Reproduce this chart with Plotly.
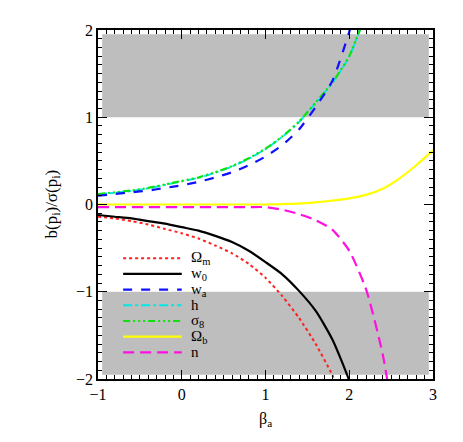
import plotly.graph_objects as go

# ---------------- data ----------------
beta_a = [-1.0, -0.8, -0.6, -0.4, -0.2, 0.0, 0.2, 0.4, 0.6, 0.8, 1.0,
          1.2, 1.4, 1.6, 1.8, 2.0, 2.2, 2.4, 2.6, 2.8, 3.0]

omega_m = [-0.14, -0.16, -0.19, -0.23, -0.28, -0.33, -0.39, -0.47, -0.56, -0.68, -0.84,
           -1.05, -1.30, -1.60, -1.96, -2.45, None, None, None, None, None]
w0 = [-0.12, -0.14, -0.16, -0.19, -0.22, -0.26, -0.30, -0.36, -0.43, -0.53, -0.66,
      -0.80, -0.99, -1.22, -1.55, -2.02, -2.70, None, None, None, None]
wa = [0.10, 0.12, 0.14, 0.16, 0.19, 0.22, 0.26, 0.31, 0.37, 0.45, 0.55,
      0.68, 0.86, 1.12, 1.42, 1.98, 2.70, None, None, None, None]
h = [0.115, 0.135, 0.155, 0.185, 0.225, 0.265, 0.305, 0.365, 0.435, 0.525, 0.635,
     0.775, 0.945, 1.165, 1.395, 1.695, 2.19, None, None, None, None]
sigma8 = [0.12, 0.14, 0.16, 0.19, 0.23, 0.27, 0.31, 0.37, 0.44, 0.53, 0.64,
          0.78, 0.95, 1.17, 1.40, 1.70, 2.20, None, None, None, None]
omega_b = [0.0, 0.0, 0.0, 0.0, 0.0, 0.0, 0.0, 0.0, 0.0, 0.0, 0.0,
           0.005, 0.01, 0.025, 0.045, 0.07, 0.11, 0.18, 0.30, 0.45, 0.62]
n_s = [-0.03, -0.03, -0.03, -0.03, -0.03, -0.03, -0.03, -0.03, -0.03, -0.03, -0.03,
       -0.06, -0.11, -0.18, -0.29, -0.53, -0.97, -1.72, -2.90, None, None]

x_ticks = [-1, 0, 1, 2, 3]
y_ticks = [-2, -1, 0, 1, 2]

labels = ["Ω<sub>m</sub>", "w<sub>0</sub>", "w<sub>a</sub>", "h",
          "σ<sub>8</sub>", "Ω<sub>b</sub>", "n"]

# excluded bands (|b/σ| > 1)
band_lo = [-1.95, 1.0]
band_hi = [-1.0, 1.95]

# ---------------- styles ----------------
FONT = "Liberation Serif"
styles = [
    dict(color="#ff2020", dash="dot", width=2),
    dict(color="black", dash="solid", width=2.2),
    dict(color="#1010ff", dash="dash", width=2.2),
    dict(color="#00e8e8", dash="dashdot", width=2),
    dict(color="#10e010", dash="7px,3px,2px,3px,2px,3px,2px,3px", width=2.2),
    dict(color="#ffff00", dash="solid", width=2.2),
    dict(color="#ff10e0", dash="11px,6px", width=2.2),
]
series = [omega_m, w0, wa, h, sigma8, omega_b, n_s]
draw_order = [3, 4, 2, 5, 6, 0, 1]

fig = go.Figure()
for i in draw_order:
    fig.add_trace(go.Scatter(x=beta_a, y=series[i], mode="lines",
                             line=dict(shape="spline", smoothing=0.6, **styles[i]),
                             showlegend=False, connectgaps=False, hoverinfo="skip"))

shapes = []
for lo, hi in zip(band_lo, band_hi):
    shapes.append(dict(type="rect", xref="x", yref="y", x0=-0.95, x1=2.95,
                       y0=lo, y1=hi, fillcolor="#bebebe",
                       line=dict(width=0), layer="below"))

# legend drawn as line samples + labels
annotations = []
leg_y0 = -0.615
leg_dy = -0.18
for k, lab in enumerate(labels):
    yy = leg_y0 + k * leg_dy
    st = styles[k]
    shapes.append(dict(type="line", xref="x", yref="y", x0=-0.70, x1=0.0,
                       y0=yy, y1=yy,
                       line=dict(color=st["color"], dash=st["dash"], width=st["width"])))
    annotations.append(dict(x=0.09, y=yy, xref="x", yref="y", text=lab,
                            showarrow=False, xanchor="left", yanchor="middle",
                            font=dict(family=FONT, size=15, color="black")))

# axis titles
annotations.append(dict(x=0.5, y=0, xref="paper", yref="paper",
                        text="β<sub>a</sub>", showarrow=False,
                        xanchor="center", yanchor="middle", yshift=-40,
                        font=dict(family=FONT, size=16, color="black")))
annotations.append(dict(x=0, y=0.5, xref="paper", yref="paper",
                        text="b(p<sub>i</sub>)/σ(p<sub>i</sub>)", showarrow=False,
                        textangle=-90, xanchor="center", yanchor="middle", xshift=-46,
                        font=dict(family=FONT, size=17, color="black")))

axis_common = dict(showgrid=False, zeroline=False, showline=True, linecolor="black",
                   linewidth=1.5, mirror="ticks", ticks="inside", ticklen=9,
                   tickwidth=1, tickcolor="black",
                   tickfont=dict(family=FONT, size=16, color="black"))

fig.update_layout(
    width=463, height=442,
    margin=dict(l=90, r=38, t=22, b=71),
    paper_bgcolor="white", plot_bgcolor="white",
    shapes=shapes, annotations=annotations,
    xaxis=dict(range=[-1, 3], tickvals=x_ticks, ticktext=[f"{v:d}".replace("-", "−") for v in x_ticks],
               minor=dict(ticks="inside", dtick=0.1, tick0=-1, ticklen=4.5, tickcolor="black"),
               **axis_common),
    yaxis=dict(range=[-2, 2], tickvals=y_ticks, ticktext=[f"{v:d}".replace("-", "−") for v in y_ticks],
               minor=dict(ticks="inside", dtick=0.1, tick0=-2, ticklen=4.5, tickcolor="black"),
               **axis_common),
)

fig.write_html("out.html")
